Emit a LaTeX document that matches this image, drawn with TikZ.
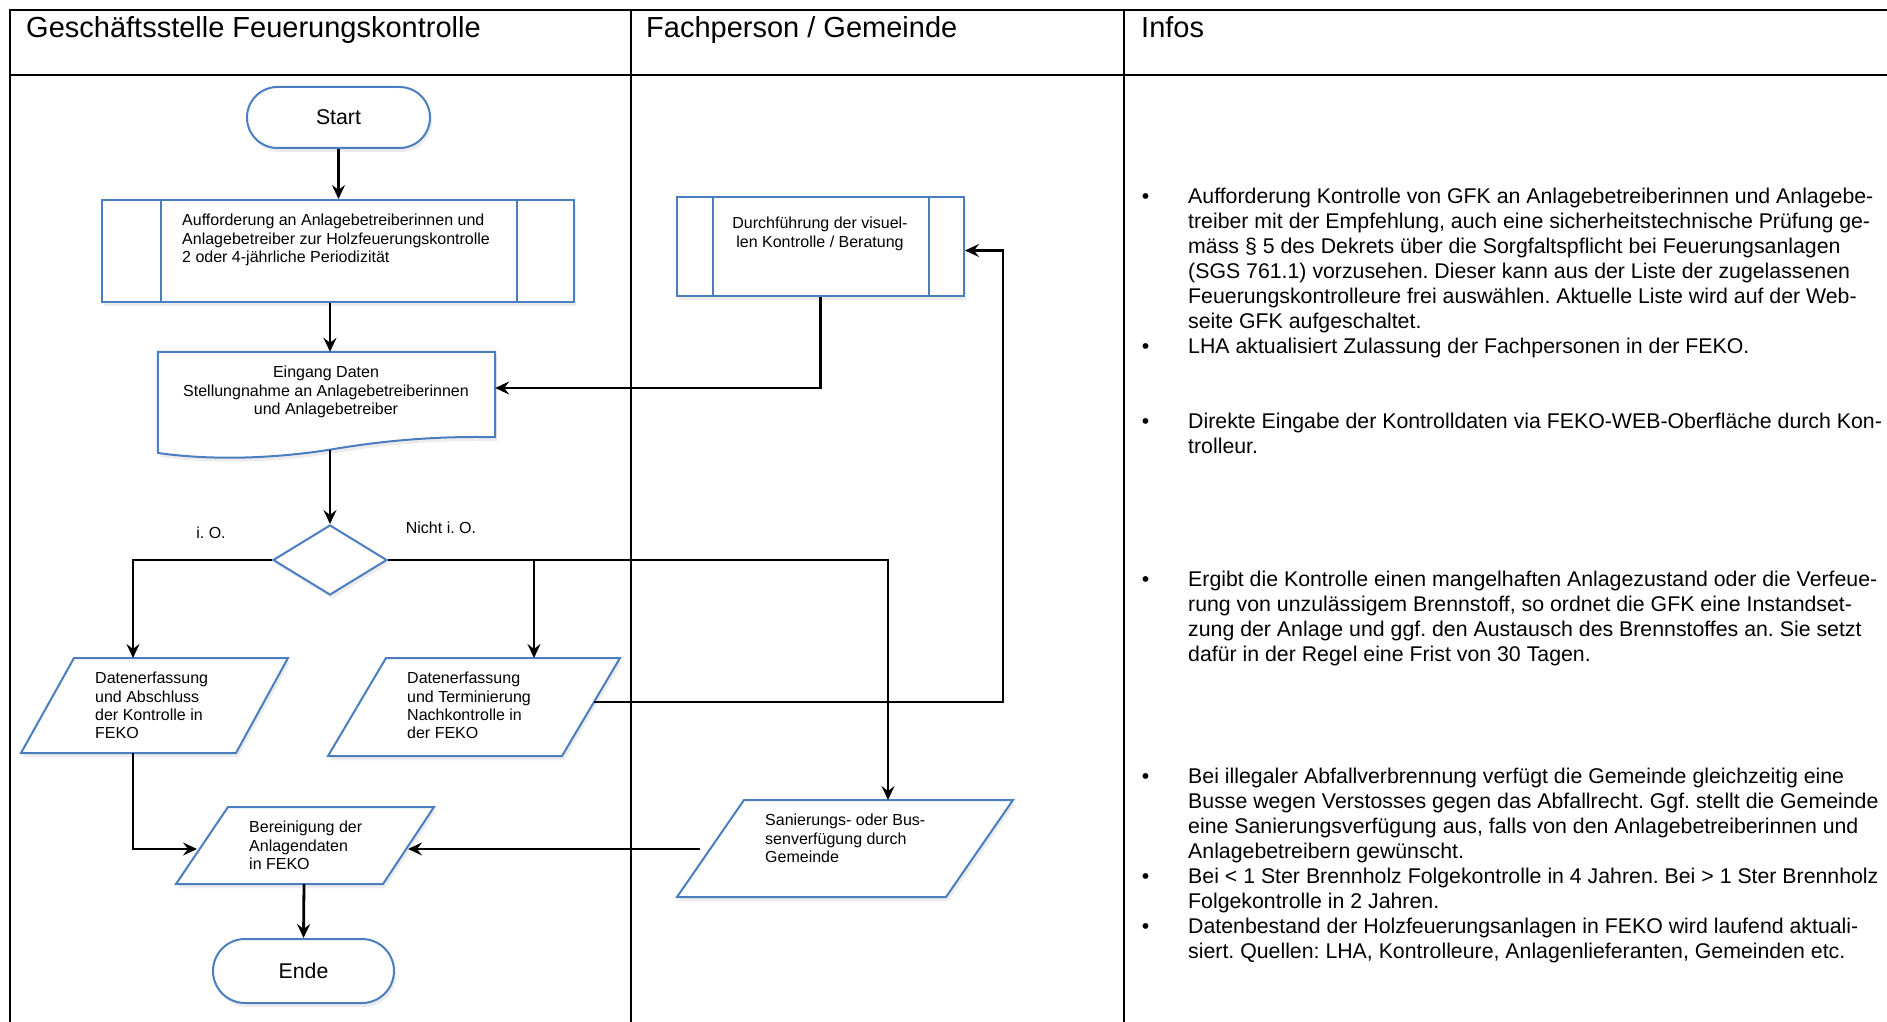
\documentclass[tikz,border=0pt]{standalone}
\usepackage{fontspec}
\setmainfont{Liberation Sans}
\usetikzlibrary{arrows.meta,shapes.geometric,shapes.misc,shadows}
\definecolor{fblue}{RGB}{74,126,193}
\newcommand\infobullet{\llap{•\hspace{39pt}}}
\frenchspacing
\begin{document}
\begin{tikzpicture}[x=1pt,y=-1pt,
  frame/.style={line width=2.6pt, black},
  shp/.style={draw=fblue, line width=2pt, fill=white,
    drop shadow={shadow xshift=2pt, shadow yshift=-4pt, opacity=0.15}},
  conn/.style={line width=2.8pt, -{Stealth[length=14pt,width=13pt,inset=5pt]}},
  txt/.style={font=\fontsize{16}{18.4}\selectfont, inner sep=0pt, align=left},
  hdr/.style={font=\fontsize{29}{34}\selectfont, inner sep=0pt},
  info/.style={font=\fontsize{21.3}{25}\selectfont, inner sep=0pt, align=left, anchor=north west},
  term/.style={shp, rounded rectangle, inner sep=0pt, font=\fontsize{21.3}{24}\selectfont},
  ppbox/.style={shp, rectangle, inner sep=0pt}
]
\useasboundingbox (0,0) rectangle (1887,1022);
\fill[white] (0,0) rectangle (1887,1022);

% table frame
\draw[frame] (1887,10) -- (10,10) -- (10,1022);
\draw[frame] (10,75) -- (1887,75);
\draw[frame] (631,10) -- (631,1022);
\draw[frame] (1124,10) -- (1124,1022);

\node[hdr, anchor=base west] (h1) at (26,38) {Geschäftsstelle Feuerungskontrolle};
\node[hdr, anchor=base west] (h2) at (646,38) {Fachperson / Gemeinde};
\node[hdr, anchor=base west] (h3) at (1141,38) {Infos};

% Start
\node[term, minimum width=183pt, minimum height=61pt] (start) at (338.5,117.5) {Start};

% Aufforderung (predefined process)
\node[ppbox, minimum width=472pt, minimum height=102pt] (auf) at (338,251) {};
\draw[fblue, line width=2pt] ([xshift=60pt]auf.north west) -- ([xshift=60pt]auf.south west);
\draw[fblue, line width=2pt] ([xshift=-58pt]auf.north east) -- ([xshift=-58pt]auf.south east);
\node[txt, anchor=north west] (auft) at (182,214) {Aufforderung an Anlagebetreiberinnen und\\Anlagebetreiber zur Holzfeuerungskontrolle\\2 oder 4-jährliche Periodizität};

% Eingang Daten (document)
\node[inner sep=0pt, minimum width=337pt, minimum height=85pt] (ein) at (326.5,394.5) {};
\path[shp] (ein.north west) -- (ein.north east) -- (ein.south east)
  .. controls (440,436) and (390,440) .. (340,448)
  .. controls (300,455) and (230,463) .. (158,453) -- cycle;
\node[txt, align=center, anchor=north] (eint) at (326,366) {Eingang Daten\\Stellungnahme an Anlagebetreiberinnen\\und Anlagebetreiber};
\coordinate (ebot) at (330,450);

% Decision
\node[shp, diamond, minimum width=114pt, minimum height=70pt, inner sep=0pt] (dia) at (330,560) {};
\node[txt] (io) at (211,533) {i. O.};
\node[txt] (nio) at (441,528) {Nicht i. O.};

% Parallelogram 1
\path[shp] (74,658) -- (288,658) -- (236,753) -- (21,753) -- cycle;
\node[txt, anchor=north west] (p1t) at (95,672) {Datenerfassung\\und Abschluss\\der Kontrolle in\\FEKO};
\coordinate (p1top) at (133,658);
\coordinate (p1bot) at (133,753);

% Parallelogram 2
\path[shp] (386,658) -- (620,658) -- (562,756) -- (328,756) -- cycle;
\node[txt, anchor=north west] (p2t) at (407,672) {Datenerfassung\\und Terminierung\\Nachkontrolle in\\der FEKO};
\coordinate (p2top) at (534,658);
\coordinate (p2r) at (594,702);

% Bereinigung
\path[shp] (228,807) -- (434,807) -- (383,884) -- (176,884) -- cycle;
\node[txt, anchor=north west] (pbt) at (249,821) {Bereinigung der\\Anlagendaten\\in FEKO};
\coordinate (bL) at (197,849);
\coordinate (bR) at (408,849);
\coordinate (bbot) at (304,884);

% Ende
\node[term, minimum width=181pt, minimum height=64pt] (ende) at (303.5,971) {Ende};

% Durchfuehrung (predefined process)
\node[ppbox, minimum width=287pt, minimum height=99pt] (dv) at (820.5,246.5) {};
\draw[fblue, line width=2pt] ([xshift=37pt]dv.north west) -- ([xshift=37pt]dv.south west);
\draw[fblue, line width=2pt] ([xshift=-36pt]dv.north east) -- ([xshift=-36pt]dv.south east);
\node[txt, align=center, anchor=north] (dvt) at (820,217) {Durchführung der visuel-\\len Kontrolle / Beratung};

% Sanierung
\path[shp] (744,800) -- (1013,800) -- (946,897) -- (677,897) -- cycle;
\node[txt, anchor=north west] (pst) at (765,814) {Sanierungs- oder Bus-\\senverfügung durch\\Gemeinde};
\coordinate (stop) at (888,800);
\coordinate (sL) at (700,849);

% connectors
\draw[conn] (start.south) -- (start.south |- auf.north);
\draw[conn] ([xshift=-8pt]auf.south) -- ([xshift=-8pt]auf.south |- ein.north);
\draw[conn] (dv.south) |- ([yshift=6.5pt]ein.east);
\draw[conn] (ebot) -- (dia.north);
\draw[conn] (dia.west) -| (p1top);
\draw[conn] (dia.east) -| (p2top);
\draw[conn] (p2top |- dia.east) -| (stop);
\draw[conn] (p2r) -| ([xshift=38pt,yshift=-4pt]dv.east) -- ([yshift=-4pt]dv.east);
\draw[conn] (p1bot) |- (bL);
\draw[conn] (sL) -- (bR);
\draw[conn] (bbot) -- (ende.north);

% Infos
\node[info] (i1) at (1188,188) {\infobullet Aufforderung Kontrolle von GFK an Anlagebetreiberinnen und Anlagebe-\\
treiber mit der Empfehlung, auch eine sicherheitstechnische Prüfung ge-\\
mäss § 5 des Dekrets über die Sorgfaltspflicht bei Feuerungsanlagen\\
(SGS 761.1) vorzusehen. Dieser kann aus der Liste der zugelassenen\\
Feuerungskontrolleure frei auswählen. Aktuelle Liste wird auf der Web-\\
seite GFK aufgeschaltet.\\
\infobullet LHA aktualisiert Zulassung der Fachpersonen in der FEKO.};
\node[info] (i2) at (1188,413) {\infobullet Direkte Eingabe der Kontrolldaten via FEKO-WEB-Oberfläche durch Kon-\\
trolleur.};
\node[info] (i3) at (1188,571) {\infobullet Ergibt die Kontrolle einen mangelhaften Anlagezustand oder die Verfeue-\\
rung von unzulässigem Brennstoff, so ordnet die GFK eine Instandset-\\
zung der Anlage und ggf. den Austausch des Brennstoffes an. Sie setzt\\
dafür in der Regel eine Frist von 30 Tagen.};
\node[info] (i4) at (1188,768) {\infobullet Bei illegaler Abfallverbrennung verfügt die Gemeinde gleichzeitig eine\\
Busse wegen Verstosses gegen das Abfallrecht. Ggf. stellt die Gemeinde\\
eine Sanierungsverfügung aus, falls von den Anlagebetreiberinnen und\\
Anlagebetreibern gewünscht.\\
\infobullet Bei < 1 Ster Brennholz Folgekontrolle in 4 Jahren. Bei > 1 Ster Brennholz\\
Folgekontrolle in 2 Jahren.\\
\infobullet Datenbestand der Holzfeuerungsanlagen in FEKO wird laufend aktuali-\\
siert. Quellen: LHA, Kontrolleure, Anlagenlieferanten, Gemeinden etc.};
\end{tikzpicture}
\end{document}
